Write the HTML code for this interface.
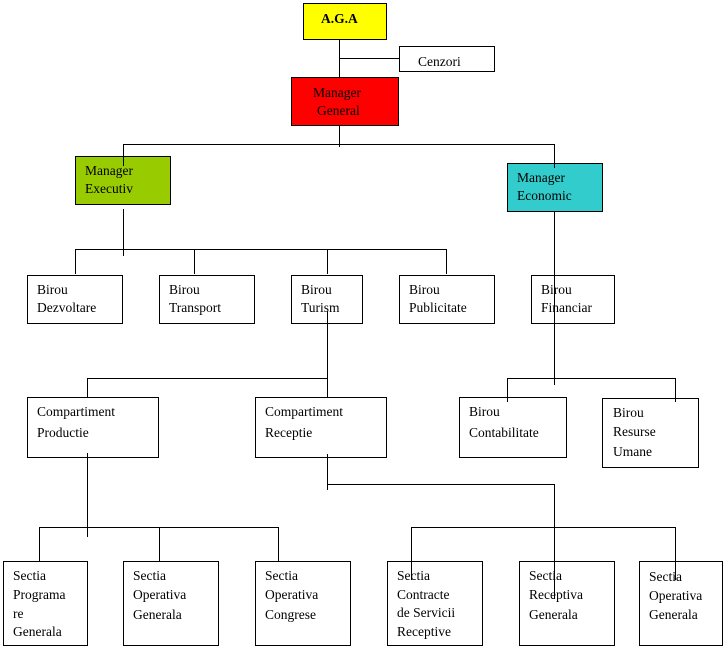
<!DOCTYPE html>
<html><head><meta charset="utf-8"><style>
html,body{margin:0;padding:0;background:#fff}
svg{display:block}
text{font-family:"Liberation Serif",serif;font-size:13.5px;fill:#000}
</style></head><body>
<svg width="726" height="649" viewBox="0 0 726 649" xmlns="http://www.w3.org/2000/svg">
<g stroke="#000" stroke-width="1" fill="none">
<rect x="303.5" y="3.5" width="83" height="36" fill="#ffff00"/>
<rect x="399.5" y="46.5" width="95" height="25" fill="#fff"/>
<rect x="291.5" y="77.5" width="107" height="48" fill="#ff0000"/>
<rect x="75.5" y="156.5" width="95" height="48" fill="#99cc00"/>
<rect x="507.5" y="163.5" width="95" height="48" fill="#33cccc"/>
<rect x="27.5" y="275.5" width="95" height="48" fill="#fff"/>
<rect x="159.5" y="275.5" width="95" height="48" fill="#fff"/>
<rect x="291.5" y="275.5" width="71" height="48" fill="#fff"/>
<rect x="399.5" y="275.5" width="95" height="48" fill="#fff"/>
<rect x="531.5" y="275.5" width="83" height="48" fill="#fff"/>
<rect x="27.5" y="397.5" width="131" height="60" fill="#fff"/>
<rect x="255.5" y="397.5" width="131" height="60" fill="#fff"/>
<rect x="459.5" y="397.5" width="107" height="60" fill="#fff"/>
<rect x="602.5" y="398.5" width="96" height="69" fill="#fff"/>
<rect x="3.5" y="561.5" width="84" height="84" fill="#fff"/>
<rect x="123.5" y="561.5" width="95" height="84" fill="#fff"/>
<rect x="255.5" y="561.5" width="95" height="84" fill="#fff"/>
<rect x="387.5" y="561.5" width="95" height="84" fill="#fff"/>
<rect x="519.5" y="561.5" width="95" height="84" fill="#fff"/>
<rect x="639.5" y="561.5" width="83" height="84" fill="#fff"/>
<path d="M339.5 39V77M339.5 58.5H399M339.5 125V147M123 144.5H554.5M123.5 144V166M554.5 144V168"/>
<path d="M123.5 209V256M75 249.5H446.5M75.5 249V274M194.5 249V274M327.5 249V274M446.5 249V274"/>
<path d="M554.5 211V385M507 378.5H675.5M507.5 378V402M675.5 378V402"/>
<path d="M327.5 311V397M87 378.5H327.5M87.5 378V397"/>
<path d="M87.5 453V537M39 527.5H278.5M39.5 527V561M159.5 527V561M278.5 527V561"/>
<path d="M327.5 454V490M327 484.5H554.5M554.5 484V599M411 527.5H675.5M411.5 527V580M675.5 527V580"/>
</g>
<text x="321" y="23" style="font-weight:bold">A.G.A</text>
<text x="418" y="66">Cenzori</text>
<text x="313" y="97">Manager</text>
<text x="317" y="115">General</text>
<text x="85" y="175">Manager</text>
<text x="85" y="193">Executiv</text>
<text x="517" y="182">Manager</text>
<text x="517" y="200">Economic</text>
<text x="37" y="294">Birou</text><text x="37" y="312">Dezvoltare</text>
<text x="169" y="294">Birou</text><text x="169" y="312">Transport</text>
<text x="301" y="294">Birou</text><text x="301" y="312">Turism</text>
<text x="409" y="294">Birou</text><text x="409" y="312">Publicitate</text>
<text x="541" y="294">Birou</text><text x="541" y="312">Financiar</text>
<text x="37" y="416">Compartiment</text><text x="37" y="437">Productie</text>
<text x="265" y="416">Compartiment</text><text x="265" y="437">Receptie</text>
<text x="469" y="416">Birou</text><text x="469" y="437">Contabilitate</text>
<text x="613" y="417">Birou</text><text x="613" y="436">Resurse</text><text x="613" y="456">Umane</text>
<text x="13" y="580">Sectia</text><text x="13" y="599">Programa</text><text x="13" y="618">re</text><text x="13" y="636">Generala</text>
<text x="133" y="580">Sectia</text><text x="133" y="599">Operativa</text><text x="133" y="619">Generala</text>
<text x="265" y="580">Sectia</text><text x="265" y="599">Operativa</text><text x="265" y="619">Congrese</text>
<text x="397" y="580">Sectia</text><text x="397" y="599">Contracte</text><text x="397" y="617">de Servicii</text><text x="397" y="636">Receptive</text>
<text x="529" y="580">Sectia</text><text x="529" y="599">Receptiva</text><text x="529" y="619">Generala</text>
<text x="649" y="581">Sectia</text><text x="649" y="600">Operativa</text><text x="649" y="619">Generala</text>
</svg>
</body></html>
